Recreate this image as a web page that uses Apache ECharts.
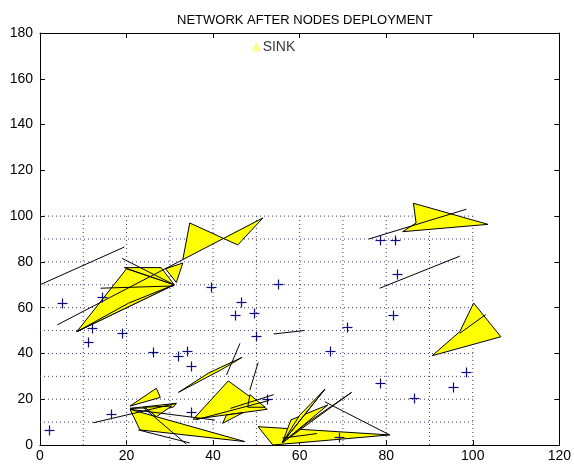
<!DOCTYPE html>
<html><head><meta charset="utf-8">
<script src="https://cdn.jsdelivr.net/npm/echarts@6/dist/echarts.min.js"></script>
<style>html,body{margin:0;padding:0;background:#fff}#c{width:574px;height:467px}</style>
</head><body><div id="c"></div>
<script>
const chartTitle = 'NETWORK AFTER NODES DEPLOYMENT';
const xRange = [0, 120];
const yRange = [0, 180];
const fieldGrid = [10, 20, 30, 40, 50, 60, 70, 80, 90, 100];
const fieldSize = 100;

const nodes = [
  [2,6.5],[5,62],[11,45],[12,51],[14.3,64.7],[19,49],[16.5,13.5],[26,40.5],[32,39],[34,41],
  [35,34.5],[35,14.5],[39.5,69],[45,57],[46.5,62.5],[49.5,57.5],[50,47.5],[52.5,20],[55,70.5],
  [67,41],[71,51.5],[69,3.5],[78.5,27],[86.5,20.5],[95.5,25.5],[98.5,32],[78.5,89.5],[82,89.5],
  [82.5,74.5],[81.5,57]
];

const sink = [[50, 174]];

const coverage = [
  [[8.5,49.5],[20,77],[31,70]],
  [[8.5,49.5],[31,70],[20.5,62]],
  [[19.5,77.5],[28,77.5],[31,70]],
  [[29,77],[33,79.5],[31.5,71]],
  [[34.6,97],[45.7,87.4],[51.5,99.2],[33,81]],
  [[20.8,17],[26.9,24.8],[27.8,20.8]],
  [[20.8,16],[31.5,18.2],[30.8,16.5]],
  [[20.8,15.6],[47.3,1.5],[23.1,6.6]],
  [[24.2,16.5],[30.4,17],[26.9,12.4]],
  [[43.5,28],[35.4,11.2],[52.5,15.6]],
  [[42.2,9.5],[43.1,13.1],[46.9,14.1]],
  [[32,23],[39,31.5],[46.7,38.3],[42,33]],
  [[50.4,8],[53.8,0],[80.8,4.4]],
  [[56,1],[72,23],[62,10]],
  [[56,1],[66.5,17.5],[58,11]],
  [[56,1],[65.8,24.3],[60,13]],
  [[48.5,22],[52,16.5],[48,16.5]],
  [[86.3,105.6],[103.5,96.4],[83.8,93.2],[86.9,97]],
  [[100.2,62],[106.5,47.3],[90.6,39],[97,49.5]]
];

const links = [
  [[0,70],[19.5,86.5]],
  [[4,52.5],[33,81]],
  [[14,68.5],[31,69.5]],
  [[19,81.5],[31,70]],
  [[12.3,9.7],[31.5,18.2]],
  [[20.8,15.6],[40.4,10.9]],
  [[23.8,16.5],[33.8,0.4]],
  [[22.7,6.6],[34.6,0.9]],
  [[36,11],[53,19.5]],
  [[44,16],[54,22]],
  [[46.2,44.4],[43.1,30.6]],
  [[50.4,36],[48.5,24]],
  [[54,48.5],[61,50]],
  [[56,1],[65.8,24.3]],
  [[65.8,18.9],[80.8,4.4]],
  [[56,3],[64,5]],
  [[76,90],[98.5,103]],
  [[78.5,68.5],[97,82.5]],
  [[97,48.8],[103,57]]
];

const font = 'Liberation Sans, Arial, sans-serif';
const chart = echarts.init(document.getElementById('c'));

function makeAxis(range, position, showLabel, margin) {
  return {
    type: 'value', min: range[0], max: range[1], interval: 20, position: position,
    axisLine: { show: true, onZero: false, lineStyle: { color: '#000', width: 1 } },
    axisTick: { show: true, inside: true, length: 5, lineStyle: { color: '#000' } },
    splitLine: { show: false },
    axisLabel: showLabel
      ? { show: true, color: '#000', fontFamily: font, fontSize: 14, margin: margin }
      : { show: false }
  };
}

chart.setOption({
  animation: false,
  backgroundColor: '#fff',
  title: {
    text: chartTitle, left: 172, top: 9,
    textStyle: { fontFamily: font, fontSize: 13, fontWeight: 'normal', color: '#000' }
  },
  grid: { left: 40, right: 14, top: 33, bottom: 22 },
  xAxis: [
    makeAxis(xRange, 'bottom', true, 4),
    makeAxis(xRange, 'top', false, 0)
  ],
  yAxis: [
    makeAxis(yRange, 'left', true, 7),
    makeAxis(yRange, 'right', false, 0)
  ],
  series: [
    {
      type: 'custom', z: 1, silent: true,
      data: fieldGrid.map(t => [t, t]),
      renderItem: (params, api) => {
        const t = fieldGrid[params.dataIndex];
        const v0 = api.coord([t, 0]), v1 = api.coord([t, fieldSize]);
        const h0 = api.coord([0, t]), h1 = api.coord([fieldSize, t]);
        const st = { stroke: '#3c3c70', lineWidth: 1, lineDash: [1, 3] };
        return { type: 'group', children: [
          { type: 'line', shape: { x1: v0[0], y1: v0[1], x2: v1[0], y2: v1[1] }, style: st },
          { type: 'line', shape: { x1: h0[0], y1: h0[1], x2: h1[0], y2: h1[1] }, style: st }
        ] };
      }
    },
    {
      type: 'custom', z: 2, silent: true, clip: true,
      data: coverage.map(s => s[0]),
      renderItem: (params, api) => {
        const pts = coverage[params.dataIndex].map(p => api.coord(p));
        return { type: 'polygon', shape: { points: pts },
          style: { fill: '#ffff00', stroke: '#000', lineWidth: 1 } };
      }
    },
    {
      type: 'custom', z: 3, silent: true, clip: true,
      data: links.map(s => s[0]),
      renderItem: (params, api) => {
        const a = api.coord(links[params.dataIndex][0]);
        const b = api.coord(links[params.dataIndex][1]);
        return { type: 'line', shape: { x1: a[0], y1: a[1], x2: b[0], y2: b[1] },
          style: { stroke: '#000', lineWidth: 1 } };
      }
    },
    {
      type: 'custom', z: 4, silent: true,
      data: nodes,
      renderItem: (params, api) => {
        const c = api.coord(nodes[params.dataIndex]);
        const x = Math.round(c[0]) + 0.5, y = Math.round(c[1]) + 0.5, r = 5;
        const st = { stroke: '#0c0c80', lineWidth: 1.2 };
        return { type: 'group', children: [
          { type: 'line', shape: { x1: x - r, y1: y, x2: x + r, y2: y }, style: st },
          { type: 'line', shape: { x1: x, y1: y - r, x2: x, y2: y + r }, style: st }
        ] };
      }
    },
    {
      type: 'scatter', z: 5, silent: true,
      data: sink,
      symbol: 'triangle', symbolSize: 8,
      itemStyle: { color: '#ffff66', borderColor: '#eeee44', borderWidth: 0.5 },
      label: { show: true, position: 'right', distance: 2, formatter: 'SINK',
        color: '#000', fontFamily: font, fontSize: 14 }
    }
  ]
});
</script>
</body></html>
